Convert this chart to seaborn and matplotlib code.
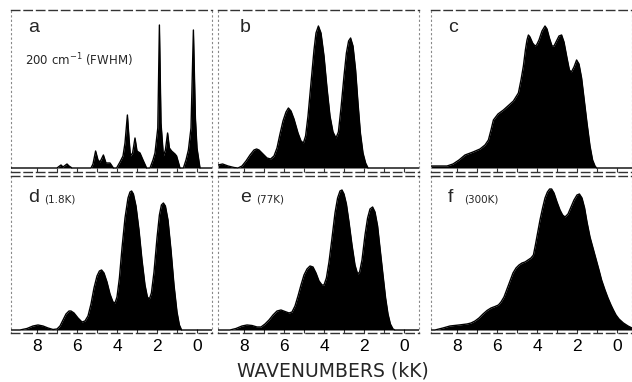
import numpy as np
import pandas as pd
import matplotlib
matplotlib.use("Agg")
import matplotlib.pyplot as plt
import seaborn as sns

sns.set_style("white")
plt.rcParams['font.family'] = ['Liberation Sans', 'DejaVu Sans']

# spectra: wavenumber (kK) and intensity (arb. units)
a_x = [9.3, 7.0, 6.8, 6.7, 6.5, 6.4, 6.25, 5.3, 5.2, 5.07, 4.95, 4.85, 4.68, 4.55, 4.35,
       4.18, 4.02, 3.85, 3.7, 3.6, 3.48, 3.4, 3.33, 3.22, 3.1, 3.0, 2.85, 2.7, 2.52,
       2.35, 2.2, 2.1, 1.96, 1.88, 1.8, 1.68, 1.58, 1.47, 1.38, 1.27, 1.1, 1.02, 0.85,
       0.68, 0.55, 0.43, 0.3, 0.18, 0.08, 0.0, -0.15, -0.75]
a_y = [0, 0, 3, 1, 4, 2, 0, 0, 4, 17, 8, 6, 13, 5, 5,
       0, 0, 6, 12, 25, 53, 30, 12, 15, 30, 17, 15, 8, 0,
       0, 8, 15, 40, 143, 45, 12, 18, 35, 20, 17, 14, 12, 0,
       0, 8, 18, 40, 138, 50, 20, 0, 0]

b_x = [9.3, 9.07, 8.8, 8.5, 8.3, 8.1, 7.9, 7.7, 7.5, 7.37, 7.25, 7.05, 6.85, 6.67, 6.5,
       6.35, 6.2, 6.05, 5.9, 5.78, 5.65, 5.5, 5.3, 5.15, 5.03, 4.92, 4.8, 4.65, 4.5,
       4.4, 4.28, 4.15, 4.0, 3.85, 3.7, 3.55, 3.4, 3.28, 3.15, 3.0, 2.88, 2.77, 2.67,
       2.55, 2.42, 2.3, 2.18, 2.05, 1.92, 1.8, -0.75]
b_y = [3, 4, 2, 0.5, 0, 2, 7, 13, 18, 19, 18, 14, 10, 9, 12,
       20, 34, 47, 56, 60, 57, 49, 35, 27, 25, 32, 52, 85, 118,
       135, 142, 135, 112, 80, 52, 36, 30, 36, 60, 92, 115, 127, 130,
       122, 98, 65, 35, 15, 5, 0, 0]

c_x = [9.3, 8.5, 8.2, 7.9, 7.6, 7.2, 6.85, 6.6, 6.43, 6.3, 6.18, 5.95, 5.68, 5.4, 5.18,
       4.93, 4.8, 4.68, 4.58, 4.5, 4.43, 4.35, 4.22, 4.1, 4.02, 3.9, 3.75, 3.6, 3.5,
       3.38, 3.25, 3.15, 3.05, 2.9, 2.77, 2.65, 2.5, 2.38, 2.28, 2.15, 2.02, 1.9, 1.77,
       1.65, 1.5, 1.35, 1.22, 1.1, 1.02, -0.75]
c_y = [2, 2, 4, 8, 13, 16, 19, 23, 28, 38, 48, 54, 58, 63, 67,
       75, 88, 102, 118, 128, 133, 131, 125, 122, 123, 128, 137, 142, 139,
       130, 122, 122, 126, 132, 133, 126, 110, 98, 96, 101, 108, 104, 90,
       70, 45, 22, 8, 2, 0, 0]

d_x = [9.3, 8.85, 8.5, 8.2, 7.95, 7.7, 7.45, 7.2, 7.0, 6.85, 6.7, 6.55, 6.4, 6.3, 6.15,
       5.95, 5.75, 5.6, 5.45, 5.3, 5.15, 5.0, 4.88, 4.77, 4.65, 4.5, 4.35, 4.2, 4.1,
       4.0, 3.88, 3.75, 3.6, 3.45, 3.35, 3.27, 3.18, 3.05, 2.9, 2.75, 2.6, 2.48, 2.38,
       2.28, 2.15, 2.0, 1.88, 1.78, 1.68, 1.58, 1.45, 1.3, 1.15, 1.0, 0.88, 0.77, -0.75]
d_y = [0, 0, 1.5, 4, 5, 4, 2, 0.5, 1, 4, 10, 16, 19, 19, 17,
       12, 8, 9, 14, 26, 42, 54, 59, 60, 57, 48, 36, 28, 27,
       33, 52, 82, 112, 132, 138, 139, 136, 124, 100, 70, 45, 33, 31,
       37, 58, 92, 115, 125, 127, 124, 110, 80, 45, 18, 5, 0, 0]

e_x = [9.3, 8.7, 8.4, 8.1, 7.85, 7.6, 7.35, 7.15, 6.95, 6.75, 6.55, 6.35, 6.15, 5.95, 5.75,
       5.6, 5.45, 5.3, 5.15, 5.0, 4.85, 4.7, 4.55, 4.4, 4.25, 4.1, 4.0, 3.88, 3.75,
       3.6, 3.45, 3.32, 3.2, 3.1, 3.0, 2.88, 2.75, 2.6, 2.45, 2.32, 2.22, 2.1, 1.95,
       1.82, 1.7, 1.57, 1.45, 1.32, 1.2, 1.05, 0.92, 0.8, 0.68, 0.55, 0.45, -0.75]
e_y = [0, 0, 1.5, 4, 5, 4.5, 3, 3, 6, 10, 15, 19, 20, 18.5, 17,
       18, 24, 34, 45, 55, 61, 64, 63, 57, 49, 45, 45, 52, 68,
       92, 117, 132, 139, 140, 136, 126, 108, 85, 65, 56, 58, 70, 95,
       112, 121, 123, 118, 104, 82, 55, 32, 16, 6, 1, 0, 0]

f_x = [9.3, 9.1, 8.9, 8.7, 8.35, 7.9, 7.5, 7.3, 7.1, 6.9, 6.7, 6.5, 6.3, 6.1, 5.93,
       5.8, 5.65, 5.5, 5.35, 5.2, 5.05, 4.9, 4.75, 4.6, 4.45, 4.3, 4.18, 4.08, 3.97,
       3.85, 3.72, 3.6, 3.48, 3.37, 3.27, 3.15, 3.0, 2.85, 2.72, 2.6, 2.45, 2.3, 2.15,
       2.0, 1.88, 1.75, 1.62, 1.5, 1.35, 1.2, 1.05, 0.9, 0.77, 0.6, 0.45, 0.3, 0.18,
       0.05, -0.1, -0.32, -0.55, -0.75]
f_y = [0, 0, 1, 2, 4, 5, 6, 7, 9, 12, 16, 19.5, 22, 23.5, 25,
       28, 33, 41, 49, 57, 62, 65, 67, 68, 70, 72, 75, 85, 97,
       110, 122, 132, 138, 141, 141, 137, 128, 120, 115, 113, 116, 123, 130,
       135, 136, 132, 122, 108, 93, 82, 71, 60, 50, 40, 32, 25, 20,
       15, 11, 7, 4, 2]

panel_letters = ['a', 'b', 'c', 'd', 'e', 'f']
panel_notes = ['', '', '', '(1.8K)', '(77K)', '(300K)']
tick_vals = [8, 6, 4, 2, 0]

spectra = [(a_x, a_y), (b_x, b_y), (c_x, c_y), (d_x, d_y), (e_x, e_y), (f_x, f_y)]

fig = plt.figure(figsize=(6.32, 3.82), dpi=100)
W, H = 632.0, 382.0
lefts = [11, 218, 431]
rows = [(10, 172), (176, 333)]
ylims = [(-4, 158), (-3, 154)]

for i, (xs, ys) in enumerate(spectra):
    r, c = divmod(i, 3)
    top, bot = rows[r]
    ax = fig.add_axes([lefts[c] / W, (H - bot) / H, 201 / W, (bot - top) / H])
    df = pd.DataFrame({'kK': xs, 'I': ys})
    ax.fill_between(df['kK'], df['I'], 0, color='black', lw=0, zorder=2)
    sns.lineplot(data=df, x='kK', y='I', ax=ax, color='black', lw=1.0, sort=False,
                 zorder=3)
    ax.set_xlim(9.3, -0.75)
    ax.set_ylim(*ylims[r])
    ax.set_xlabel('')
    ax.set_ylabel('')
    ax.set_yticks([])
    ax.set_xticks(tick_vals)
    ax.set_xticks([7, 5, 3, 1], minor=True)
    ax.tick_params(axis='x', which='both', direction='in', length=3, width=0.8,
                   bottom=True, colors='#333333')
    if r == 1:
        ax.set_xticklabels([str(v) for v in tick_vals], fontsize=12.5, color='black')
        ax.tick_params(axis='x', pad=4.5)
    else:
        ax.set_xticklabels([])
    for side in ['top', 'bottom']:
        ax.spines[side].set_linestyle((0, (6, 3)))
        ax.spines[side].set_color('#333333')
        ax.spines[side].set_linewidth(1.0)
    for side in ['left', 'right']:
        ax.spines[side].set_linestyle((0, (1, 3)))
        ax.spines[side].set_color('#888888')
        ax.spines[side].set_linewidth(0.8)

    lx = 0.085 if c != 1 else 0.11
    ly = 0.864 if r == 0 else 0.834
    ax.text(lx, ly, panel_letters[i], transform=ax.transAxes, fontsize=14,
            va='baseline', ha='left')
    if panel_notes[i]:
        ax.text(lx + 0.08, ly, panel_notes[i], transform=ax.transAxes, fontsize=7.5,
                va='baseline', ha='left', family='DejaVu Sans')
    if i == 0:
        ax.text(0.07, 0.66, '200 cm$^{-1}$ (FWHM)', transform=ax.transAxes,
                fontsize=8.5, va='baseline', ha='left', family='DejaVu Sans')

fig.text(0.527, 0.03, 'WAVENUMBERS (kK)', ha='center', va='center', fontsize=13.5,
         family='DejaVu Sans')

fig.savefig('out.png', dpi=100)
